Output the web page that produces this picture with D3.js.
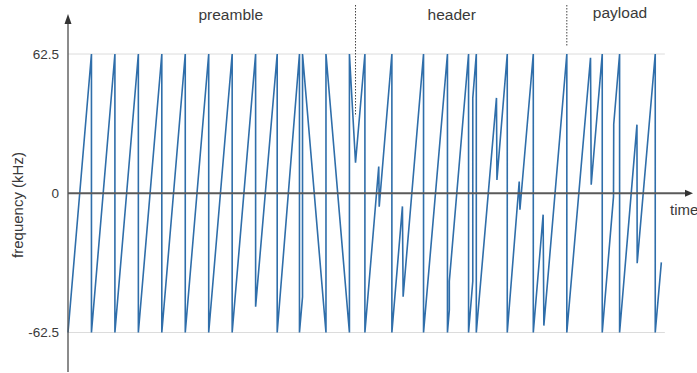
<!DOCTYPE html>
<html>
<head>
<meta charset="utf-8">
<script src="https://cdn.jsdelivr.net/npm/d3@7"></script>
<style>
  body { margin: 0; background: #fff; }
  svg text { font-family: "Liberation Sans", Arial, sans-serif; fill: #3a3a3a; }
</style>
</head>
<body>
<div id="chart"></div>
<script>
// time in symbol periods, frequency in kHz
const yTicks = [-62.5, 0, 62.5];
const sectionNames = ['preamble', 'header', 'payload'];
const sectionStarts = [0, 12.26, 21.27];
const sectionEnds = [12.26, 21.27, 25.3];
const dividerTimes = [12.26, 21.27];
const dividerTops = [31, 62.5];

// chirp vertices
const preambleT = [0, 1, 1, 2, 2, 3, 3, 4, 4, 5, 5, 6, 6, 7, 7, 8];
const preambleF = [-62.5, 62.5, -62.5, 62.5, -62.5, 62.5, -62.5, 62.5, -62.5, 62.5, -62.5, 62.5, -62.5, 62.5, -62.5, 62.5];
const syncT = [8, 8.92, 8.92, 9.87, 9.87, 10, 10, 11, 11, 12, 12, 12.26];
const syncF = [-50.9, 62.5, -62.5, 62.5, -62.5, -46.5, 62.5, -62.5, 62.5, -62.5, 62.5, 13.7];
const headerT = [12.66, 12.66, 13.25, 13.27, 13.81, 13.81, 14.26, 14.29, 15.16, 15.16, 16.18, 16.18, 16.26, 16.26,
  17.08, 17.08, 17.26, 17.26, 17.41, 17.41, 18.27, 18.29, 18.73, 18.73, 19.24, 19.27, 19.84, 19.84, 20.26, 20.29, 21.27];
const headerF = [62.5, -62.5, 12, -6, 62.5, -62.5, -5.9, -46.4, 62.5, -62.5, 62.5, -62.5, -52.4, -39.5,
  62.5, -62.5, -39.5, 42.7, 62.5, -62.5, 42.8, 6, 62.5, -62.5, 5.3, -7.4, 62.5, -62.5, -9.6, -59.4, 62.5];
const payloadT = [21.27, 22.28, 22.31, 22.78, 22.78, 23.26, 23.27, 23.52, 23.52, 24.26, 24.27, 25.04, 25.04, 25.3];
const payloadF = [-62.5, 60.8, 3.8, 62.5, -62.5, -1.5, 31, 62.5, -62.5, 30.8, -31.4, 62.5, -62.5, -31];

const W = 697, H = 373;
const x0 = 68, axisEnd = 693;

const svg = d3.select('#chart').append('svg')
  .attr('width', W)
  .attr('height', H);

const x = d3.scaleLinear().domain([0, 26.65]).range([x0, axisEnd]);
const y = d3.scaleLinear().domain([-62.5, 62.5]).range([332.5, 54]);

// light grid at band edges
svg.append('g')
  .selectAll('line')
  .data(yTicks.filter(d => d !== 0))
  .enter().append('line')
  .attr('x1', x0).attr('x2', x(25.45))
  .attr('y1', d => y(d)).attr('y2', d => y(d))
  .attr('stroke', '#dcdcdc').attr('stroke-width', 1);

// the chirp trace
const pts = [];
[[preambleT, preambleF], [syncT, syncF], [headerT, headerF], [payloadT, payloadF]].forEach(([ts, fs]) => {
  ts.forEach((t, i) => pts.push([t, fs[i]]));
});

svg.append('path')
  .datum(pts)
  .attr('fill', 'none')
  .attr('stroke', '#2f6eaa')
  .attr('stroke-width', 1.6)
  .attr('stroke-linejoin', 'miter')
  .attr('d', d3.line().x(d => x(d[0])).y(d => y(d[1])));

// axes
const axisColor = '#5a5a5a';
svg.append('line')
  .attr('x1', x0).attr('x2', axisEnd - 6)
  .attr('y1', y(0)).attr('y2', y(0))
  .attr('stroke', axisColor).attr('stroke-width', 1.8);
svg.append('path')
  .attr('d', `M${axisEnd},${y(0)} L${axisEnd - 8},${y(0) - 3.5} L${axisEnd - 8},${y(0) + 3.5} Z`)
  .attr('fill', '#333');

svg.append('line')
  .attr('x1', x0).attr('x2', x0)
  .attr('y1', 22).attr('y2', 372)
  .attr('stroke', axisColor).attr('stroke-width', 1.4);
svg.append('path')
  .attr('d', `M${x0},14 L${x0 - 3.5},24 L${x0 + 3.5},24 Z`)
  .attr('fill', '#333');

const yAxis = svg.append('g')
  .attr('transform', `translate(${x0 - 9},0)`)
  .call(d3.axisLeft(y).tickValues(yTicks).tickSize(0).tickPadding(0).tickFormat(d => d));
yAxis.select('.domain').remove();
yAxis.selectAll('text')
  .style('font-family', '"Liberation Sans", Arial, sans-serif')
  .style('font-size', '13.5px')
  .attr('fill', '#3a3a3a');

// axis titles
svg.append('text')
  .attr('transform', `translate(23,${205}) rotate(-90)`)
  .attr('text-anchor', 'middle')
  .style('font-size', '15px')
  .text('frequency (kHz)');

svg.append('text')
  .attr('x', 670).attr('y', 215)
  .style('font-size', '15px')
  .text('time');

// section dividers and labels
svg.append('g')
  .selectAll('line')
  .data(dividerTimes)
  .enter().append('line')
  .attr('x1', d => x(d)).attr('x2', d => x(d))
  .attr('y1', 5).attr('y2', (d, i) => y(dividerTops[i]) - 8)
  .attr('stroke', '#444').attr('stroke-width', 1)
  .attr('stroke-dasharray', '1.5,1.5');

const labelBase = [20, 20, 18];
const labelMid = [230.5 - x0, 451 - x0, 619 - x0].map(px => px / 23.41);
svg.append('g')
  .selectAll('text')
  .data(sectionNames)
  .enter().append('text')
  .attr('x', (d, i) => x(labelMid[i]))
  .attr('y', (d, i) => labelBase[i])
  .attr('text-anchor', 'middle')
  .style('font-size', '15.5px')
  .text(d => d);
</script>
</body>
</html>
